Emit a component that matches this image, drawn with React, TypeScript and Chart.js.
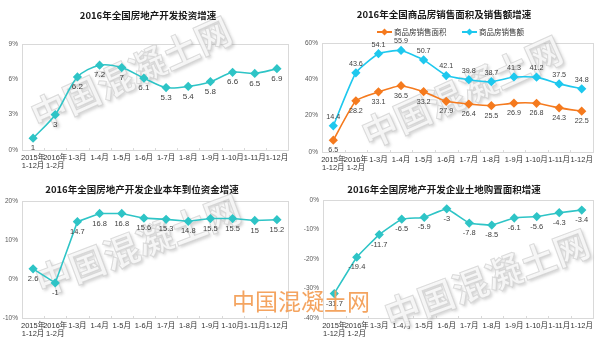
import React, { useEffect, useRef } from "react";
import { Chart, registerables } from "chart.js";

Chart.register(...registerables);

const categories: (string | string[])[] = [
  ["2015年", "1-12月"],
  ["2016年", "1-2月"],
  "1-3月", "1-4月", "1-5月", "1-6月", "1-7月", "1-8月", "1-9月", "1-10月", "1-11月", "1-12月",
];

const investGrowth = [1, 3, 6.2, 7.2, 7, 6.1, 5.3, 5.4, 5.8, 6.6, 6.5, 6.9];
const salesArea = [6.5, 28.2, 33.1, 36.5, 33.2, 27.9, 26.4, 25.5, 26.9, 26.8, 24.3, 22.5];
const salesAmount = [14.4, 43.6, 54.1, 55.9, 50.7, 42.1, 39.8, 38.7, 41.3, 41.2, 37.5, 34.8];
const fundsGrowth = [2.6, -1, 14.7, 16.8, 16.8, 15.6, 15.3, 14.8, 15.5, 15.5, 15, 15.2];
const landGrowth = [-31.7, -19.4, -11.7, -6.5, -5.9, -3, -7.8, -8.5, -6.1, -5.6, -4.3, -3.4];

const title1 = "2016年全国房地产开发投资增速";
const title2 = "2016年全国商品房销售面积及销售额增速";
const title3 = "2016年全国房地产开发企业本年到位资金增速";
const title4 = "2016年全国房地产开发企业土地购置面积增速";
const legendArea = "商品房销售面积";
const legendAmount = "商品房销售额";
const watermarkText = "中国混凝土网";

const TEAL = "#2ec4c6";
const CYAN = "#1ec8ee";
const ORANGE = "#f57a1e";
const W = 300;
const H = 172;
const FONT = "'Liberation Sans', 'Noto Sans CJK SC', sans-serif";
const CJK = "'Noto Sans CJK SC', sans-serif";

type DS = { label: string; data: number[]; color: string; offset: number };
type Spec = {
  title: string;
  titleX: number;
  titleY: number;
  datasets: DS[];
  yMin: number;
  yMax: number;
  yStep: number;
  plot: { left: number; right: number; top: number; bottom: number };
  labelSize: number;
  tension: number;
  wm: { cx: number; cy: number; angle: number };
  legend?: boolean;
};

function drawDiamond(ctx: CanvasRenderingContext2D, x: number, y: number, r: number, color: string) {
  ctx.beginPath();
  ctx.moveTo(x, y - r);
  ctx.lineTo(x + r, y);
  ctx.lineTo(x, y + r);
  ctx.lineTo(x - r, y);
  ctx.closePath();
  ctx.fillStyle = color;
  ctx.fill();
}

function makeConfig(spec: Spec): any {
  const decor = {
    id: "decor",
    beforeDraw(chart: any) {
      const ctx = chart.ctx;
      ctx.save();
      ctx.fillStyle = "#ffffff";
      ctx.fillRect(0, 0, chart.width, chart.height);
      ctx.restore();
    },
    beforeDatasetsDraw(chart: any) {
      const ctx = chart.ctx;
      const a = chart.chartArea;
      ctx.save();
      ctx.strokeStyle = "#d9d9d9";
      ctx.lineWidth = 1;
      ctx.strokeRect(Math.round(a.left) + 0.5, Math.round(a.top) + 0.5, Math.round(a.right - a.left), Math.round(a.bottom - a.top));
      const xs = chart.scales.x;
      for (let i = 0; i <= categories.length; i++) {
        const px = Math.round(xs.left + (i * (xs.right - xs.left)) / categories.length) + 0.5;
        ctx.beginPath();
        ctx.moveTo(px, a.bottom);
        ctx.lineTo(px, a.bottom - 2);
        ctx.stroke();
      }
      ctx.translate(spec.wm.cx, spec.wm.cy);
      ctx.rotate((spec.wm.angle * Math.PI) / 180);
      ctx.font = `bold 36px ${CJK}`;
      ctx.textAlign = "center";
      ctx.textBaseline = "middle";
      ctx.shadowColor = "rgba(120,120,120,0.35)";
      ctx.shadowBlur = 3;
      ctx.shadowOffsetX = 2;
      ctx.shadowOffsetY = 2;
      ctx.fillStyle = "rgba(247,247,247,0.9)";
      ctx.fillText(watermarkText, 0, 0);
      ctx.shadowColor = "transparent";
      ctx.strokeStyle = "rgba(205,205,205,0.7)";
      ctx.lineWidth = 1;
      ctx.strokeText(watermarkText, 0, 0);
      ctx.restore();
    },
    afterDatasetsDraw(chart: any) {
      const ctx = chart.ctx;
      ctx.save();
      ctx.font = `${spec.labelSize}px ${FONT}`;
      ctx.fillStyle = "#404040";
      ctx.textAlign = "center";
      ctx.textBaseline = "middle";
      chart.data.datasets.forEach((ds: any, di: number) => {
        const meta = chart.getDatasetMeta(di);
        meta.data.forEach((pt: any, i: number) => {
          ctx.fillText(String(ds.data[i]), pt.x, pt.y + ds.labelOffset);
        });
      });
      ctx.restore();
    },
    afterDraw(chart: any) {
      const ctx = chart.ctx;
      ctx.save();
      ctx.font = `bold 9.5px ${CJK}`;
      ctx.fillStyle = "#1a1a1a";
      ctx.textAlign = "center";
      ctx.textBaseline = "middle";
      ctx.fillText(spec.title, spec.titleX, spec.titleY);
      if (spec.legend) {
        const items = [
          { x: 77, text: legendArea, color: ORANGE },
          { x: 162, text: legendAmount, color: CYAN },
        ];
        const ly = 32;
        ctx.font = `7.5px ${CJK}`;
        ctx.textAlign = "left";
        items.forEach((it) => {
          ctx.strokeStyle = it.color;
          ctx.lineWidth = 2;
          ctx.beginPath();
          ctx.moveTo(it.x, ly);
          ctx.lineTo(it.x + 15, ly);
          ctx.stroke();
          drawDiamond(ctx, it.x + 7.5, ly, 3.5, it.color);
          ctx.fillStyle = "#333333";
          ctx.fillText(it.text, it.x + 17, ly);
        });
      }
      ctx.restore();
    },
  };

  return {
    type: "line",
    data: {
      labels: categories,
      datasets: spec.datasets.map((d) => ({
        label: d.label,
        data: d.data,
        borderColor: d.color,
        backgroundColor: d.color,
        pointBackgroundColor: d.color,
        pointBorderColor: d.color,
        pointStyle: "rectRot",
        pointRadius: 3.5,
        borderWidth: 1.6,
        tension: spec.tension,
        labelOffset: d.offset,
      })),
    },
    options: {
      responsive: false,
      animation: false,
      events: [],
      layout: {
        padding: { top: spec.plot.top, right: W - spec.plot.right, left: 0, bottom: 0 },
      },
      plugins: {
        legend: { display: false },
        title: { display: false },
        tooltip: { enabled: false },
      },
      scales: {
        x: {
          offset: true,
          grid: { display: false, drawTicks: false },
          border: { display: false },
          ticks: {
            autoSkip: false,
            maxRotation: 0,
            minRotation: 0,
            padding: 4,
            color: "#333333",
            font: { family: FONT, size: 7.5, lineHeight: 1.05 },
          },
          afterFit(scale: any) {
            scale.height = H - spec.plot.bottom;
          },
        },
        y: {
          min: spec.yMin,
          max: spec.yMax,
          grid: { display: false, drawTicks: false },
          border: { display: false },
          ticks: {
            stepSize: spec.yStep,
            padding: 4,
            color: "#595959",
            font: { family: FONT, size: 6.5 },
            callback: (v: any) => `${v}%`,
          },
          afterFit(scale: any) {
            scale.width = spec.plot.left;
          },
        },
      },
    },
    plugins: [decor],
  };
}

const specs: Spec[] = [
  {
    title: title1,
    titleX: 148,
    titleY: 15,
    datasets: [{ label: title1, data: investGrowth, color: TEAL, offset: 10 }],
    yMin: 0,
    yMax: 9,
    yStep: 3,
    plot: { left: 22, right: 288, top: 44, bottom: 150 },
    labelSize: 8,
    tension: 0.3,
    wm: { cx: 131, cy: 73, angle: -24.5 },
  },
  {
    title: title2,
    titleX: 144,
    titleY: 14,
    datasets: [
      { label: legendArea, data: salesArea, color: ORANGE, offset: 10 },
      { label: legendAmount, data: salesAmount, color: CYAN, offset: -9 },
    ],
    yMin: 0,
    yMax: 60,
    yStep: 20,
    plot: { left: 22, right: 293, top: 43, bottom: 152 },
    labelSize: 7.2,
    tension: 0.15,
    wm: { cx: 162, cy: 92, angle: -24.4 },
    legend: true,
  },
  {
    title: title3,
    titleX: 142,
    titleY: 17,
    datasets: [{ label: title3, data: fundsGrowth, color: TEAL, offset: 10 }],
    yMin: -10,
    yMax: 20,
    yStep: 10,
    plot: { left: 22, right: 288, top: 29, bottom: 146 },
    labelSize: 7.5,
    tension: 0,
    wm: { cx: 138, cy: 73, angle: -20.7 },
  },
  {
    title: title4,
    titleX: 144,
    titleY: 17,
    datasets: [{ label: title4, data: landGrowth, color: TEAL, offset: 10 }],
    yMin: -40,
    yMax: 0,
    yStep: 10,
    plot: { left: 23, right: 293, top: 28, bottom: 146 },
    labelSize: 7.5,
    tension: 0.1,
    wm: { cx: 187, cy: 107, angle: -20.4 },
  },
];

const positions = [
  { left: 0, top: 0 },
  { left: 300, top: 0 },
  { left: 0, top: 172 },
  { left: 300, top: 172 },
];

function Panel({ spec, left, top }: { spec: Spec; left: number; top: number }) {
  const ref = useRef<HTMLCanvasElement | null>(null);
  useEffect(() => {
    if (!ref.current) return;
    const chart = new Chart(ref.current, makeConfig(spec));
    return () => chart.destroy();
  }, [spec]);
  return (
    <canvas
      ref={ref}
      width={W}
      height={H}
      style={{ position: "absolute", left, top, width: W, height: H, display: "block" }}
    />
  );
}

export default function App() {
  return (
    <div
      style={{
        position: "fixed",
        left: 0,
        top: 0,
        width: 600,
        height: 344,
        background: "#ffffff",
        overflow: "hidden",
      }}
    >
      {specs.map((s, i) => (
        <Panel key={i} spec={s} left={positions[i].left} top={positions[i].top} />
      ))}
      <div
        style={{
          position: "absolute",
          left: 232,
          top: 289,
          fontFamily: CJK,
          fontSize: 23,
          lineHeight: "23px",
          color: "#f4a460",
          whiteSpace: "nowrap",
          pointerEvents: "none",
        }}
      >
        {watermarkText}
      </div>
    </div>
  );
}
